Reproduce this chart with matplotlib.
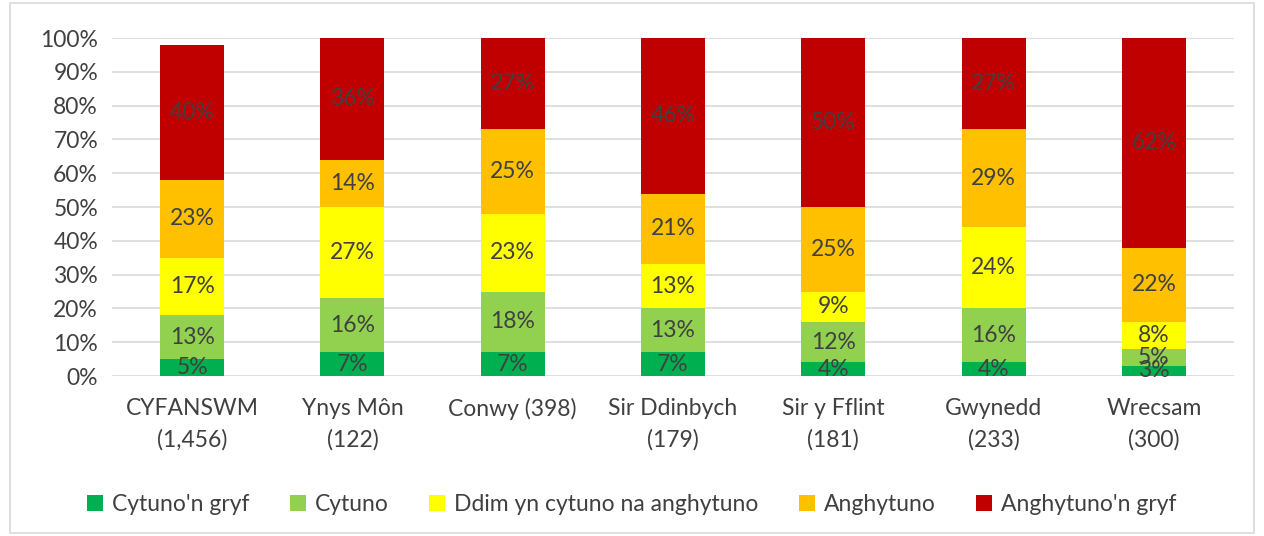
import matplotlib.pyplot as plt
import numpy as np
from matplotlib.patches import Rectangle

categories = ["CYFANSWM\n(1,456)", "Ynys Môn\n(122)", "Conwy (398)", "Sir Ddinbych\n(179)",
              "Sir y Fflint\n(181)", "Gwynedd\n(233)", "Wrecsam\n(300)"]
series = ["Cytuno'n gryf", "Cytuno", "Ddim yn cytuno na anghytuno", "Anghytuno", "Anghytuno'n gryf"]
cytuno_gryf = [5, 7, 7, 7, 4, 4, 3]
cytuno = [13, 16, 18, 13, 12, 16, 5]
ddim = [17, 27, 23, 13, 9, 24, 8]
anghytuno = [23, 14, 25, 21, 25, 29, 22]
anghytuno_gryf = [40, 36, 27, 46, 50, 27, 62]
colors = ["#00B050", "#92D050", "#FFFF00", "#FFC000", "#C00000"]

plt.rcParams['font.family'] = ['Lato', 'DejaVu Sans']
txt = "#404040"
fs = 16.5

fig = plt.figure(figsize=(12.64, 5.36), dpi=100)
ax = fig.add_axes([0.0886, 0.2985, 0.8877, 0.6305])
fig.patches.append(Rectangle((0.008, 0.005), 0.984, 0.99, transform=fig.transFigure,
                             fill=False, edgecolor="#d9d9d9", lw=1.2))

x = np.arange(len(categories))
bottom = np.zeros(len(categories))
for name, vals, c in zip(series, [cytuno_gryf, cytuno, ddim, anghytuno, anghytuno_gryf], colors):
    vals = np.array(vals, dtype=float)
    ax.bar(x, vals, 0.4, bottom=bottom, color=c, label=name, zorder=3)
    for xi, b, v in zip(x, bottom, vals):
        ax.text(xi, b + v / 2, f"{int(v)}%", ha="center", va="center",
                fontsize=fs, color=txt, zorder=4)
    bottom += vals

ax.set_xlim(-0.5, 6.5)
ax.set_ylim(0, 100)
ax.set_yticks(range(0, 101, 10))
ax.set_yticklabels([f"{t}%" for t in range(0, 101, 10)])
ax.set_xticks(x)
ax.set_xticklabels(categories, linespacing=1.55)
ax.tick_params(axis="both", length=0, labelsize=fs, colors=txt)
ax.tick_params(axis="x", pad=16)
ax.tick_params(axis="y", pad=10)
ax.grid(axis="y", color="#d9d9d9", lw=1.2, zorder=0)
for s in ax.spines.values():
    s.set_visible(False)

fig.legend(loc="lower center", bbox_to_anchor=(0.5, 0.0), ncol=5, frameon=False,
           fontsize=fs, handlelength=0.7, handleheight=0.7, handletextpad=0.4,
           columnspacing=1.75, labelcolor=txt)

fig.savefig("out.png", dpi=100)
